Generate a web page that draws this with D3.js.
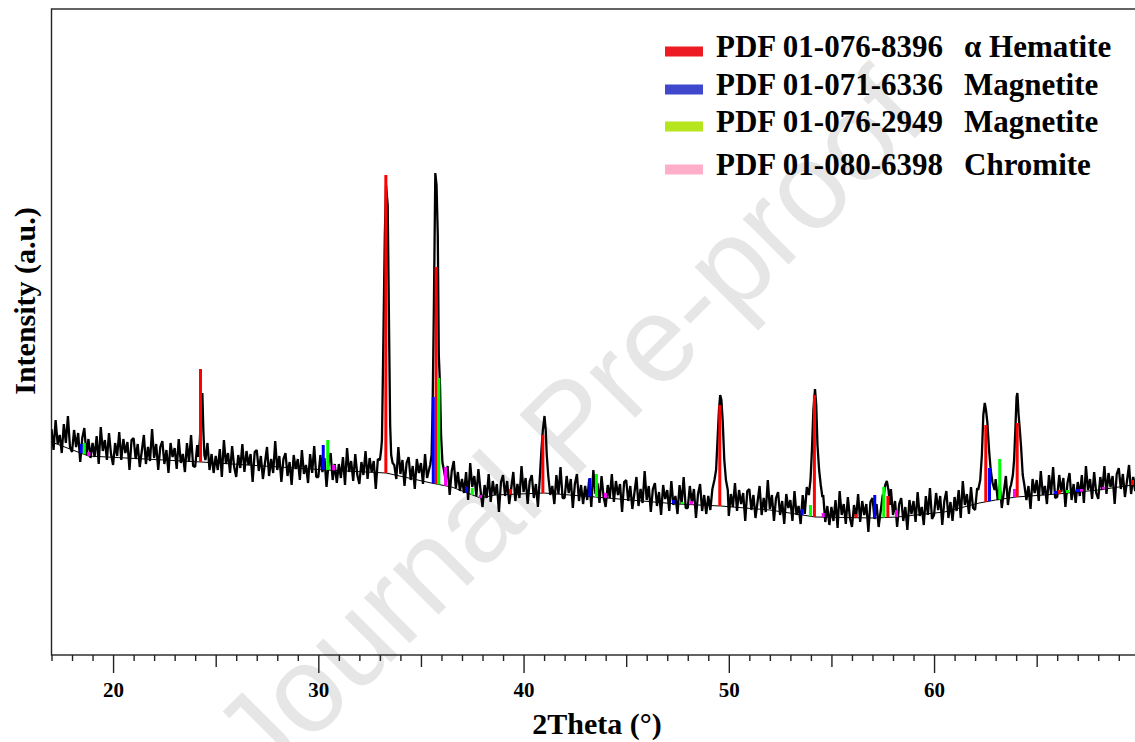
<!DOCTYPE html>
<html><head><meta charset="utf-8">
<script src="https://cdn.jsdelivr.net/npm/d3@7"></script>
<style>body{margin:0;background:#fff} svg{display:block}</style>
</head><body><svg id="c" width="1135" height="742"></svg>
<script>
// ---- measured scan (2θ from 17.0° in 0.1° steps), arbitrary intensity units ----
const scanStart = 17.0, scanStep = 0.1;
const scanCounts = [
226,205,235,211,220,202,231,212,239,208,
203,225,208,222,193,217,227,200,216,197,
212,198,219,191,228,204,215,195,222,201,
190,212,199,223,195,216,202,213,185,215,
217,196,211,188,204,220,191,208,194,226,
197,211,185,208,214,191,205,182,212,198,
207,186,216,192,201,183,212,193,220,189,
188,210,193,207,178,202,212,185,201,182,
199,185,206,178,215,191,202,182,209,188,
178,200,187,211,183,204,190,201,173,203,
205,184,199,176,192,208,179,196,182,214,
185,199,173,196,202,179,193,170,200,186,
196,175,205,181,190,172,201,182,209,178,
178,200,183,197,168,192,202,175,191,172,
191,177,198,170,207,183,194,174,201,180,
171,193,180,204,176,197,183,194,166,196,
199,178,193,170,186,202,173,190,176,208,
181,195,169,192,198,175,189,166,196,182,
192,171,201,177,186,168,197,178,205,174,
170,192,175,189,160,184,194,167,183,164,
176,162,183,155,192,168,179,159,186,165,
148,170,157,181,153,174,160,171,143,173,
180,159,174,151,167,183,154,171,157,189,
163,177,151,174,180,157,171,148,178,164,
175,154,184,160,169,151,180,161,188,157,
157,179,162,176,147,171,181,154,170,151,
169,155,176,148,185,161,172,152,179,158,
148,170,157,181,153,174,160,171,143,173,
175,154,169,146,162,178,149,166,152,184,
155,169,143,166,172,149,163,140,170,156,
165,144,174,150,159,141,170,151,178,147,
147,169,152,166,137,161,171,144,160,141,
159,145,166,138,175,151,162,142,169,148,
139,161,148,172,144,165,151,162,134,164,
166,145,160,137,153,169,140,157,143,175,
146,160,134,157,163,140,154,131,161,147,
155,134,164,140,149,131,160,141,168,137,
136,158,141,155,126,150,160,133,149,130,
148,134,155,127,164,140,151,131,158,137,
128,150,137,161,133,154,140,151,123,153,
157,136,151,128,144,160,131,148,134,166,
140,154,128,151,157,134,148,125,155,141,
154,133,163,139,148,130,159,140,167,136,
140,162,145,159,130,154,164,137,153,134,
158,144,165,137,174,150,161,141,168,147,
145,167,154,178,150,171,157,168,140,170,
176,155,170,147,163,179,150,167,153,185,
161,175,149,172,178,155,169,146,176,162,
175,154,184,160,169,151,180,161,188,157,
158,180,163,177,148,172,182,155,171,152,
173,159,180,152,189,165,176,156,183,162,
156,178,165,189,161,182,168,179,151,181,
187,166,181,158,174,190,161,178,164,196,
176
];

// ---- diffraction peaks, read at finer 2θ spacing: [2θ, intensity] ----
const peak24 = [[24.15,198],[24.22,213],[24.28,235],[24.35,262],[24.40,224],[24.45,200],[24.50,195]];
const peak33 = [[33.00,195],[33.06,205],[33.10,215],[33.16,300],[33.24,420],[33.30,470],[33.38,450],[33.45,320],[33.50,230],[33.55,200],[33.62,192]];
const peak35 = [[35.45,190],[35.52,200],[35.57,250],[35.63,347],[35.70,482],[35.76,470],[35.82,420],[35.87,300],[35.93,270],[35.98,220],[36.05,192],[36.12,185]];
const peak41 = [[40.80,180],[40.87,205],[40.94,225],[41.02,239],[41.08,225],[41.13,200],[41.20,180]];
const peak49 = [[49.30,175],[49.38,185],[49.45,215],[49.52,245],[49.58,260],[49.64,255],[49.70,235],[49.78,195],[49.86,175],[49.95,165]];
const peak54 = [[53.90,160],[53.98,175],[54.05,205],[54.12,245],[54.20,266],[54.26,250],[54.32,210],[54.40,185],[54.48,170],[54.56,158]];
const peak57 = [[57.55,160],[57.62,170],[57.70,174],[57.78,165],[57.85,150]];
const peak62 = [[62.15,165],[62.25,175],[62.33,200],[62.40,240],[62.47,252],[62.53,245],[62.60,232],[62.68,205],[62.76,185],[62.85,172],[62.95,165]];
const peak64 = [[63.75,170],[63.84,180],[63.90,195],[63.96,225],[64.02,258],[64.06,262],[64.12,240],[64.18,225],[64.24,208],[64.32,180],[64.40,170]];
const peakProfiles = [peak24, peak33, peak35, peak41, peak49, peak54, peak57, peak62, peak64];

// ---- fitted background ----
const backgroundTheta = [17.0,18.8,24.3,30.4,33.3,35.5,36.5,37.9,38.6,41.0,43.5,47.5,49.6,52.0,53.6,54.2,57.1,58.2,60.5,62.2,63.0,64.0,66.0,68.0,70.0];
const backgroundLevel = [213,199,193,185,182,172,168,157,160,162,158,151,149,145,140,138,137,138,143,152,155,158,161,165,171];

// ---- reference pattern sticks: [2θ, top intensity] ----
const hematite = [[24.26,286],[33.29,480],[35.74,388],[39.36,166],[40.94,220],[49.56,250],[54.17,260],[56.20,141],[57.75,159],[62.52,230],[64.05,232],[66.10,165],[69.67,175]];
const magnetite6336 = [[18.45,211],[30.24,210],[35.60,258],[37.22,168],[43.23,177],[47.30,155],[53.57,146],[57.11,160],[62.70,187],[65.92,164],[66.99,166]];
const magnetite2949 = [[18.60,212],[30.46,215],[35.87,277],[37.50,167],[43.55,181],[47.73,153],[53.98,150],[57.55,168],[63.20,196],[66.50,165]];
const chromite = [[18.82,203],[30.75,190],[36.20,188],[37.90,160],[43.99,162],[48.17,154],[54.60,142],[58.17,145],[63.92,166],[67.18,166],[68.25,168]];

const legendCodes = ["PDF 01-076-8396","PDF 01-071-6336","PDF 01-076-2949","PDF 01-080-6398"];
const legendNames = ["α Hematite","Magnetite","Magnetite","Chromite"];
const legendSwatch = ["#ed1c24","#3f48cc","#b5e61d","#ffaec9"];
const stickColors = ["#ff0000","#0000ff","#00ff00","#ff00ff"];

const majorTicks = [20,30,40,50,60];
const mediumTicks = [25,35,45,55,65];
const minorTicks = d3.range(17,71,1);
const xTitle = "2Theta (°)";
const yTitle = "Intensity (a.u.)";
const watermark = "Journal Pre-proof";

// ---- drawing ----
(function draw(){
const svg = d3.select("#c");
const pL = 51.5, pR = 1139.3, pT = 9, pB = 655;
const x = d3.scaleLinear().domain([17,70]).range([pL,pR]);
const y = d3.scaleLinear().domain([0,646]).range([pB,pT]);
const bg = d3.scaleLinear().domain(backgroundTheta).range(backgroundLevel);
const serif = "'Liberation Serif','Times New Roman',serif";

// watermark (behind)
svg.append("text")
  .attr("transform","translate(598,455) rotate(-45)")
  .attr("text-anchor","middle")
  .attr("font-family","'Liberation Sans', Arial, sans-serif")
  .attr("font-size",122)
  .attr("fill","#e6e6e6")
  .text(watermark);

// frame
svg.append("rect").attr("x",pL).attr("y",pT).attr("width",pR-pL).attr("height",pB-pT)
  .attr("fill","none").attr("stroke","#222").attr("stroke-width",1.4);

svg.append("clipPath").attr("id","pc").append("rect")
  .attr("x",pL).attr("y",pT).attr("width",pR-pL).attr("height",pB-pT);
const plot = svg.append("g").attr("clip-path","url(#pc)");

// pattern
const scan = scanCounts.map((v,i)=>[+(scanStart+i*scanStep).toFixed(2), v]);
let pts = scan.filter(([t])=>!peakProfiles.some(p=>t>=p[0][0] && t<=p[p.length-1][0]));
peakProfiles.forEach(p=>pts.push(...p));
pts.sort((a,b)=>a[0]-b[0]);
const line = d3.line().x(d=>x(d[0])).y(d=>y(d[1]));

// background line
plot.append("path").datum(backgroundTheta.map((t,i)=>[t,backgroundLevel[i]])).attr("d",line)
  .attr("fill","none").attr("stroke","#000").attr("stroke-width",1);

plot.append("path").datum(pts).attr("d",line).attr("fill","none").attr("stroke","#000")
  .attr("stroke-width",2.3).attr("stroke-linejoin","bevel");

// sticks
[hematite, magnetite6336, magnetite2949, chromite].forEach((set,k)=>{
  plot.append("g").selectAll("rect").data(set).join("rect")
    .attr("x",d=>x(d[0])-1.5).attr("width",3)
    .attr("y",d=>y(d[1]))
    .attr("height",d=>Math.max(1,y(bg(d[0]))-y(d[1])))
    .attr("fill",stickColors[k]);
});

// x axis ticks
const axisG = svg.append("g").attr("transform",`translate(0,${pB})`);
const addAxis = (vals,size,labels)=>{
  const g = axisG.append("g").call(d3.axisBottom(x).tickValues(vals).tickSize(size).tickPadding(9).tickFormat(labels? d3.format("d"):()=>""));
  g.select(".domain").remove();
  g.selectAll("line").attr("stroke","#222").attr("stroke-width",1.4);
  g.selectAll("text").attr("font-family",serif)
    .attr("font-weight","bold").attr("font-size",21).attr("fill","#000");
  return g;
};
addAxis(minorTicks.filter(v=>!majorTicks.includes(v)&&!mediumTicks.includes(v)),6,false);
addAxis(mediumTicks,12,false);
addAxis(majorTicks,18,true);

// titles
svg.append("text").attr("x",597).attr("y",734).attr("text-anchor","middle")
  .attr("font-family",serif).attr("font-weight","bold").attr("font-size",30)
  .text(xTitle);
svg.append("text").attr("transform","translate(35,301) rotate(-90)").attr("text-anchor","middle")
  .attr("font-family",serif).attr("font-weight","bold").attr("font-size",30)
  .text(yTitle);

// legend
const baselines = [57,95,132,175];
const lg = svg.append("g");
legendCodes.forEach((c,i)=>{
  lg.append("rect").attr("x",665).attr("y",baselines[i]-10.5).attr("width",38).attr("height",10).attr("fill",legendSwatch[i]);
  lg.append("text").attr("x",716).attr("y",baselines[i])
    .attr("font-family",serif).attr("font-weight","bold").attr("font-size",31).text(c);
  lg.append("text").attr("x",964).attr("y",baselines[i])
    .attr("font-family",serif).attr("font-weight","bold").attr("font-size",31).text(legendNames[i]);
});
})();
</script></body></html>
